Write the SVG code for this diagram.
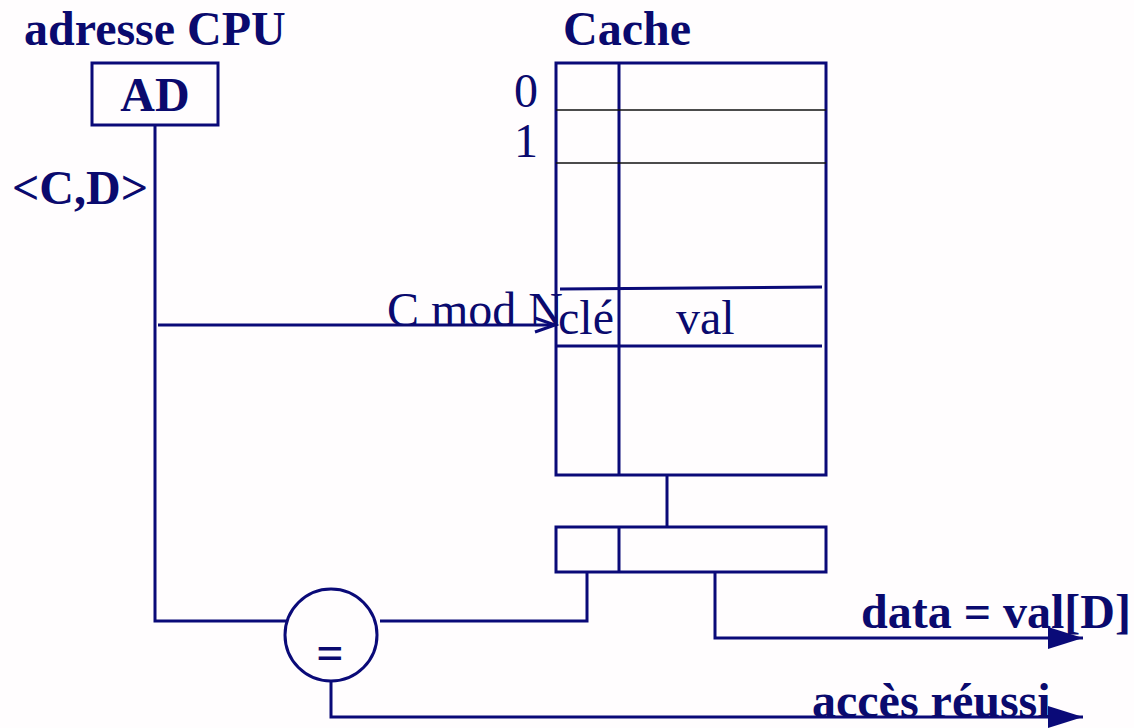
<svg xmlns="http://www.w3.org/2000/svg" width="1134" height="728" viewBox="0 0 1134 728">
<style>
.ln{stroke:#0a0a78;stroke-width:3;fill:none}
.thin{stroke:#111;stroke-width:1.5;fill:none}
.b{font-family:"Liberation Serif",serif;font-weight:bold;font-size:48px;fill:#0a0a6e}
.r{font-family:"Liberation Serif",serif;font-size:48px;fill:#0a0a6e}
</style>
<defs>
<marker id="tri" markerUnits="userSpaceOnUse" markerWidth="36" markerHeight="24" refX="35" refY="11" orient="auto">
<path d="M0,0 L35,11 L0,22 Z" fill="#0a0a78"/>
</marker>
</defs>
<rect width="1134" height="728" fill="#fffdfe"/>
<g id="titles">
<text class="b" x="24" y="45">adresse CPU</text>
<text class="b" x="563" y="45">Cache</text>
<text class="b" x="12" y="204">&lt;C,D&gt;</text>
</g>
<g id="ad">
<rect class="ln" x="92" y="63" width="126" height="62"/>
<text class="b" x="155" y="111" text-anchor="middle">AD</text>
</g>
<g id="cache">
<rect class="ln" x="556" y="63" width="270" height="412"/>
<line class="ln" x1="619" y1="63" x2="619" y2="475"/>
<line class="thin" x1="556" y1="110" x2="826" y2="110"/>
<line class="thin" x1="556" y1="163" x2="826" y2="163"/>
<line class="ln" x1="560" y1="289" x2="822" y2="287"/>
<line class="ln" x1="556" y1="346" x2="822" y2="346"/>
<text class="r" x="514" y="107" font-size="44">0</text>
<text class="r" x="514" y="157" font-size="44">1</text>
<text class="r" x="558" y="334">clé</text>
<text class="r" x="676" y="334">val</text>
</g>
<g id="register">
<rect class="ln" x="556" y="527" width="270" height="45"/>
<line class="ln" x1="619" y1="527" x2="619" y2="572"/>
</g>
<g id="comparator">
<circle class="ln" cx="331" cy="635" r="46"/>
<text class="b" x="330" y="669" text-anchor="middle">=</text>
</g>
<g id="connectors">
<polyline class="ln" points="155,125 155,621 286,621"/>
<line class="ln" x1="158" y1="325" x2="554" y2="325"/>
<polyline class="ln" points="535,318 555,325 535,332"/>
<text class="r" x="387" y="326" font-size="40">C mod N</text>
<line class="ln" x1="667" y1="475" x2="667" y2="527"/>
<polyline class="ln" points="587,572 587,621 380,621"/>
<polyline class="ln" points="715,572 715,638 1083,638" marker-end="url(#tri)"/>
<polyline class="ln" points="331,681 331,717 1083,717" marker-end="url(#tri)"/>
<text class="b" x="861" y="628">data = val[D]</text>
<text class="b" x="812" y="717">accès réussi</text>
</g>
</svg>
